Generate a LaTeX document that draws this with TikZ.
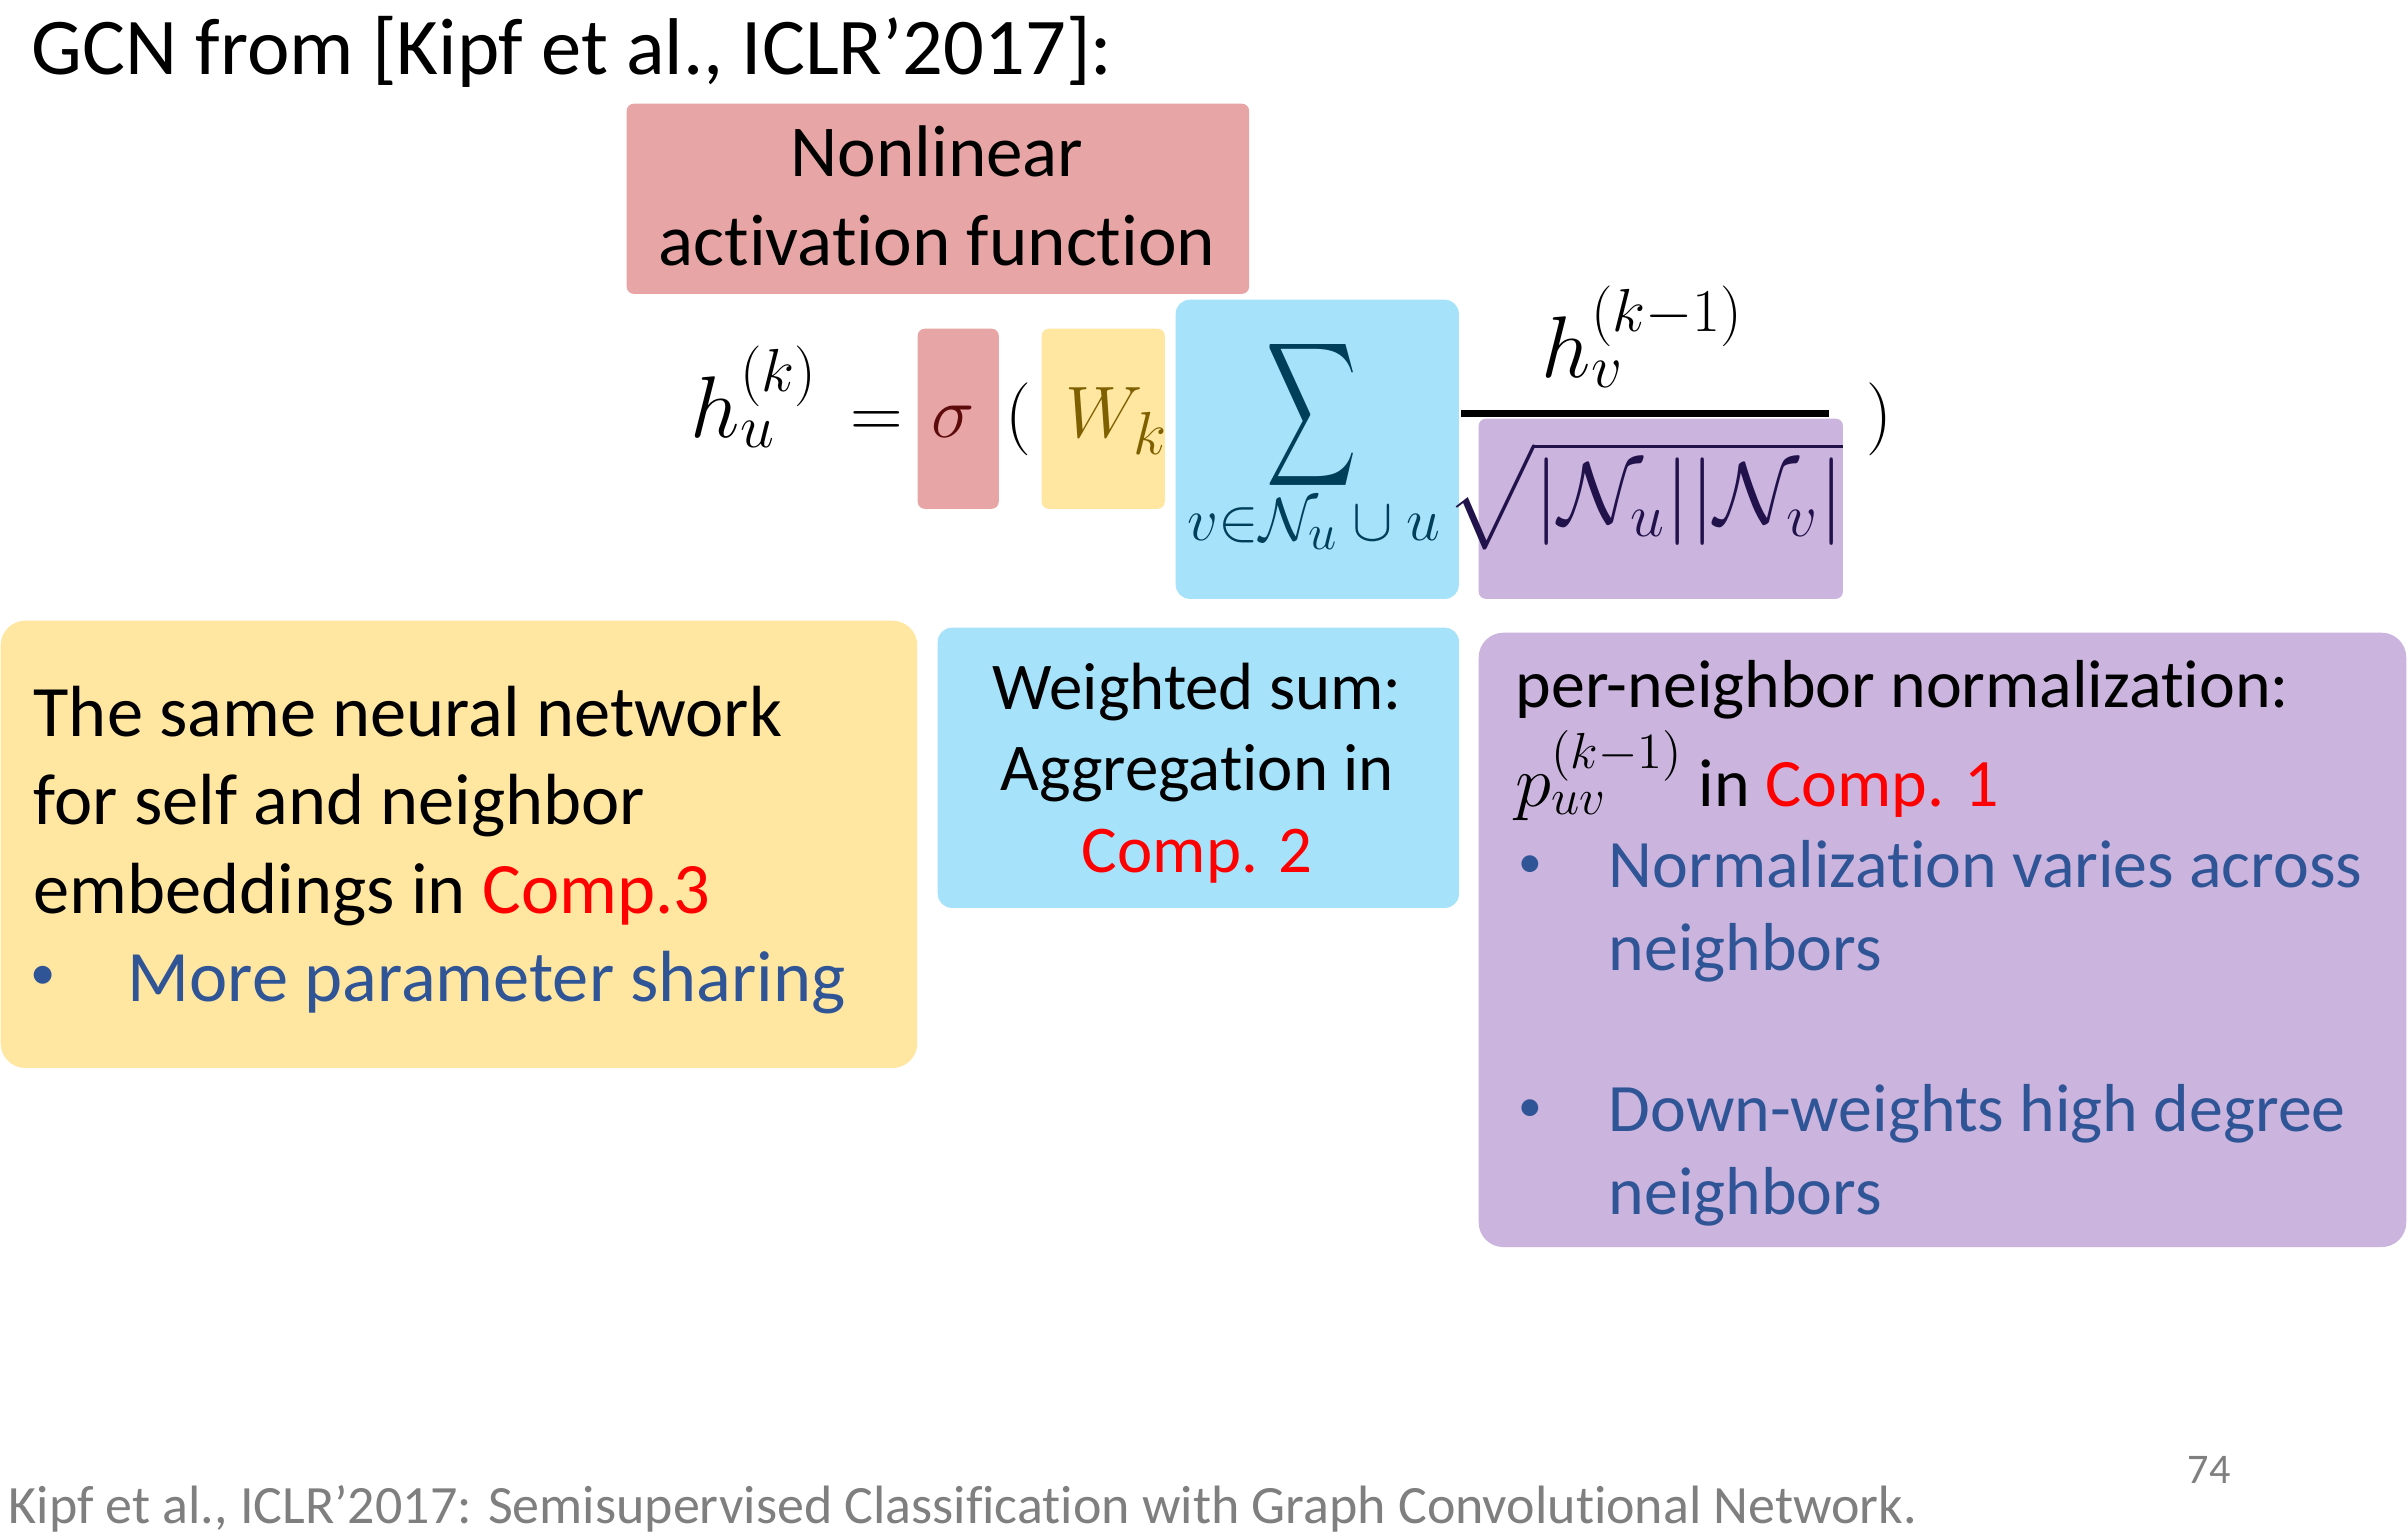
\documentclass[tikz,border=0pt]{standalone}
\usepackage{fontspec}
\setmainfont{Carlito}[Ligatures=NoCommon]
\usepackage{amsmath}
\usepackage{graphicx}
\usetikzlibrary{positioning}

\definecolor{redbox}{HTML}{E8A5A5}
\definecolor{yellowbox}{HTML}{FFE6A1}
\definecolor{bluebox}{HTML}{A6E2FA}
\definecolor{purplebox}{HTML}{CBB4DE}
\definecolor{comptext}{HTML}{FF0000}
\definecolor{bullettext}{HTML}{2F5597}
\definecolor{sigmacol}{HTML}{5E0B0B}
\definecolor{wcol}{HTML}{7F6000}
\definecolor{sumcol}{HTML}{003F5A}
\definecolor{sqrtcol}{HTML}{21124B}
\definecolor{footcol}{HTML}{7F7F7F}

\begin{document}
\begin{tikzpicture}[x=0.01cm, y=-0.01cm]
\tikzstyle{hlbox} = [rectangle, inner sep=0, anchor=north west, rounded corners=2pt]
\tikzstyle{notebox} = [rectangle, inner sep=0, anchor=north west, rounded corners=7pt]
\tikzstyle{txt} = [inner sep=0, anchor=base west]
\tikzstyle{ctxt} = [inner sep=0, anchor=base, align=center]
\tikzstyle{mth} = [inner sep=0, anchor=base west, font=\fontsize{22.8}{27}\selectfont]
\tikzstyle{bigmth} = [inner sep=0, anchor=base west, font=\fontsize{24}{28}\selectfont]
\tikzstyle{fracbar} = [line width=0.07cm]

\def\comp#1{\textcolor{comptext}{#1}}
\def\bul{\raisebox{0.16em}{\scalebox{0.7}{\textbullet}}}

\path[fill=white, use as bounding box] (0,0) rectangle (2408,1538);

    % coloured boxes behind the formula
    \node[hlbox, fill=redbox, minimum width=6.22cm, minimum height=1.90cm] (actbox) at (626,103) {};
    \node[hlbox, fill=redbox, minimum width=0.81cm, minimum height=1.80cm] (sigmabox) at (917,328) {};
    \node[hlbox, fill=yellowbox, minimum width=1.23cm, minimum height=1.80cm] (wbox) at (1041,328) {};
    \node[hlbox, fill=bluebox, minimum width=2.83cm, minimum height=2.99cm, rounded corners=4pt] (sumbox) at (1175,299) {};
    \node[hlbox, fill=purplebox, minimum width=3.64cm, minimum height=1.80cm] (normbox) at (1478,418) {};

    \node[notebox, fill=yellowbox, minimum width=9.16cm, minimum height=4.47cm] (sharebox) at (0,620) {};
    \node[notebox, fill=bluebox, minimum width=5.21cm, minimum height=2.80cm, rounded corners=4pt] (aggbox) at (937,627) {};
    \node[notebox, fill=purplebox, minimum width=9.27cm, minimum height=6.14cm] (pnbox) at (1478,632) {};

    \node[txt, font=\fontsize{22.9}{26}\selectfont] (title) at (31,74) {GCN from [Kipf et al., ICLR’2017]:};
    \node[ctxt, font=\fontsize{20.8}{25.04}\selectfont] (acttext) at (937,265) {Nonlinear\\activation function};

    % the update rule
    \node[bigmth] (hu) at (690,437) {$h_u^{(k)}$};
    \node[mth] (eq) at (850,437) {$=$};
    \node[mth, text=sigmacol] (sigma) at (931,437) {$\sigma$};
    \node[mth] (lpar) at (1005,437) {$($};
    \node[mth, text=wcol] (wk) at (1065,437) {$W_k$};
    \node[inner sep=0, text=sumcol, font=\fontsize{22.8}{27}\selectfont] (sumsym) at (1312,415) {\scalebox{0.86}[1.38]{$\displaystyle\sum$}};
    \node[inner sep=0, anchor=base, text=sumcol, font=\fontsize{19}{22}\selectfont] (sumsub) at (1314,540) {$v{\in}\mathcal{N}_u\cup u$};
    \node[bigmth] (hv) at (1541,377) {$h_v^{(k-1)}$};
    \node[inner sep=0, anchor=base, text=sqrtcol, font=\fontsize{23.6}{28}\selectfont] (den) at (1645,523) {$\sqrt{|\mathcal{N}_u||\mathcal{N}_v|}$};
    \draw[fracbar] (1461,413) -- (1829,413);
    \node[mth] (rpar) at (1866,437) {$)$};

    % notes
    \node[txt, align=left, font=\fontsize{20.6}{25.04}\selectfont] (sharetext) at (33,913) {The same neural network\\for self and neighbor\\embeddings in \comp{Comp.3}};
    \node[txt, text=bullettext, font=\fontsize{20.6}{25.04}\selectfont] (sharebul) at (30,1001) {\bul};
    \node[txt, text=bullettext, font=\fontsize{20.6}{25.04}\selectfont] (sharebultext) at (127,1001) {More parameter sharing};

    \node[ctxt, font=\fontsize{19}{23.05}\selectfont] (aggtext) at (1197,872) {Weighted sum:\\Aggregation in\\\comp{Comp. 2}};

    \node[txt, align=left, font=\fontsize{19.3}{27.9}\selectfont] (normtitle) at (1515,806) {per-neighbor normalization:\\$p_{uv}^{(k-1)}$ in \comp{Comp. 1}};
    \node[txt, text=bullettext, font=\fontsize{19.3}{23.33}\selectfont] (bula) at (1518,888) {\bul};
    \node[txt, text=bullettext, align=left, font=\fontsize{19.3}{23.33}\selectfont] (bulatext) at (1608,970) {Normalization varies across\\neighbors};
    \node[txt, text=bullettext, font=\fontsize{19.3}{23.33}\selectfont] (bulb) at (1518,1132) {\bul};
    \node[txt, text=bullettext, align=left, font=\fontsize{19.3}{23.33}\selectfont] (bulbtext) at (1608,1214) {Down-weights high degree\\neighbors};

    \node[txt, text=footcol, font=\fontsize{15.35}{18}\selectfont] (cite) at (8,1523) {Kipf et al., ICLR’2017: Semisupervised Classification with Graph Convolutional Network.};
    \node[txt, text=footcol, font=\fontsize{12}{14}\selectfont] (pagenum) at (2187,1483) {74};

\end{tikzpicture}
\end{document}
